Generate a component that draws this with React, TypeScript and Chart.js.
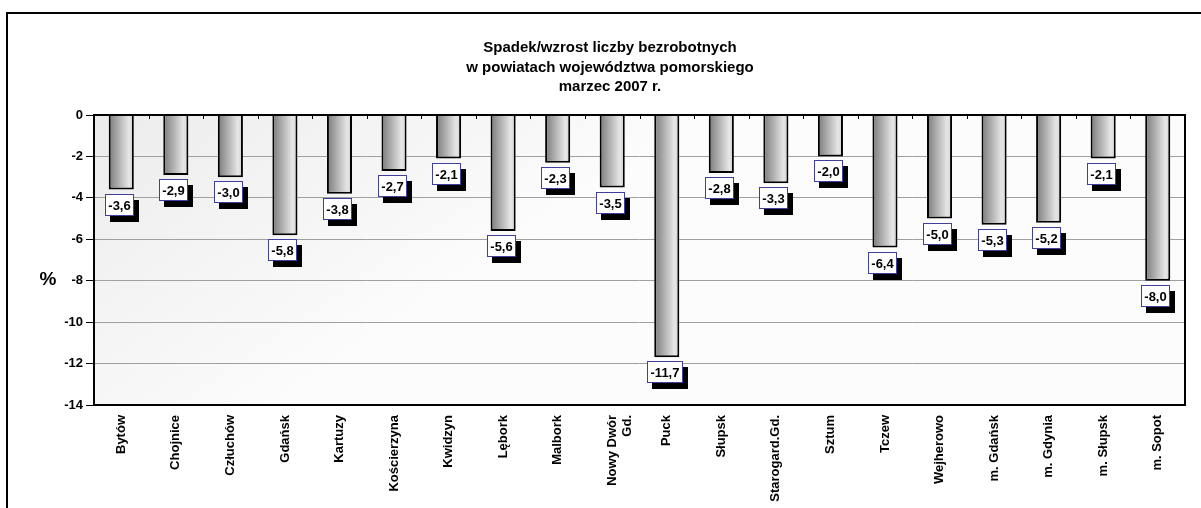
import React, { useEffect, useRef } from 'react';
import { Chart, registerables } from 'chart.js';

Chart.register(...registerables);

const categories: (string | string[])[] = [
  'Bytów', 'Chojnice', 'Człuchów', 'Gdańsk', 'Kartuzy', 'Kościerzyna', 'Kwidzyn', 'Lębork',
  'Malbork', ['Nowy Dwór', 'Gd.'], 'Puck', 'Słupsk', 'Starogard.Gd.', 'Sztum', 'Tczew',
  'Wejherowo', 'm. Gdańsk', 'm. Gdynia', 'm. Słupsk', 'm. Sopot',
];
const values = [
  -3.6, -2.9, -3.0, -5.8, -3.8, -2.7, -2.1, -5.6, -2.3, -3.5,
  -11.7, -2.8, -3.3, -2.0, -6.4, -5.0, -5.3, -5.2, -2.1, -8.0,
];
const yMin = -14;
const yMax = 0;
const yStep = 2;
const titleLines = [
  'Spadek/wzrost liczby bezrobotnych',
  'w powiatach województwa pomorskiego',
  'marzec 2007 r.',
];
const yAxisTitle = '%';

const FONT = '"Liberation Sans", Arial, Helvetica, sans-serif';

export default function App() {
  const ref = useRef<HTMLCanvasElement | null>(null);

  useEffect(() => {
    const canvas = ref.current;
    if (!canvas) return;

    const decor = {
      id: 'decor',
      beforeDraw(chart: any) {
        const { ctx, chartArea: a } = chart;
        ctx.save();
        ctx.fillStyle = '#ffffff';
        ctx.fillRect(0, 0, chart.width, chart.height);
        const g = ctx.createLinearGradient(a.left, a.top, a.left + 200, a.bottom);
        g.addColorStop(0, '#ececec');
        g.addColorStop(1, '#fcfcfc');
        ctx.fillStyle = g;
        ctx.fillRect(a.left, a.top, a.right - a.left, a.bottom - a.top);
        ctx.restore();
      },
      afterDatasetsDraw(chart: any) {
        const { ctx, chartArea: a } = chart;
        ctx.save();
        ctx.strokeStyle = '#000';
        ctx.lineWidth = 2;
        ctx.strokeRect(a.left, a.top, a.right - a.left, a.bottom - a.top);
        const n = categories.length;
        const cw = (a.right - a.left) / n;
        ctx.lineWidth = 1;
        for (let i = 1; i < n; i++) {
          const x = Math.round(a.left + i * cw) + 0.5;
          ctx.beginPath();
          ctx.moveTo(x, a.top);
          ctx.lineTo(x, a.top + 4);
          ctx.stroke();
        }
        const meta = chart.getDatasetMeta(0);
        ctx.font = `bold 13px ${FONT}`;
        ctx.textAlign = 'center';
        ctx.textBaseline = 'middle';
        meta.data.forEach((bar: any, i: number) => {
          const txt = values[i].toFixed(1).replace('.', ',');
          const tw = ctx.measureText(txt).width;
          const w = Math.round(tw + 7);
          const h = 22;
          const cx = bar.x - 2;
          const left = Math.round(cx - w / 2);
          const top = Math.round(bar.y + 4);
          ctx.fillStyle = '#000';
          ctx.fillRect(left + 5, top + 6, w, h);
          ctx.fillStyle = '#fff';
          ctx.fillRect(left, top, w, h);
          ctx.strokeStyle = '#3f3fa0';
          ctx.lineWidth = 1;
          ctx.strokeRect(left + 0.5, top + 0.5, w - 1, h - 1);
          ctx.fillStyle = '#000';
          ctx.fillText(txt, left + w / 2, top + h / 2 + 1);
        });
        ctx.restore();
      },
      afterDraw(chart: any) {
        const { ctx } = chart;
        ctx.save();
        ctx.strokeStyle = '#000';
        ctx.lineWidth = 2;
        ctx.strokeRect(7, 13, 1220, 600);
        ctx.fillStyle = '#000';
        ctx.font = `bold 15px ${FONT}`;
        ctx.textAlign = 'center';
        ctx.textBaseline = 'middle';
        titleLines.forEach((t, i) => ctx.fillText(t, 610, 48 + i * 19.5));
        ctx.font = `bold 19px ${FONT}`;
        ctx.fillText(yAxisTitle, 48, 280);
        ctx.restore();
      },
    };

    const chart = new Chart(canvas, {
      type: 'bar',
      data: {
        labels: categories as any,
        datasets: [
          {
            data: values,
            borderColor: '#000',
            borderWidth: 2,
            borderSkipped: 'start',
            categoryPercentage: 1,
            barPercentage: 0.46,
            backgroundColor: (c: any) => {
              const chart = c.chart;
              const a = chart.chartArea;
              if (!a || c.dataIndex === undefined || !chart.scales.x) return '#aaaaaa';
              const xs = chart.scales.x;
              const cx = xs.getPixelForValue(c.dataIndex);
              const half = ((a.right - a.left) / categories.length) * 0.46 / 2;
              const g = chart.ctx.createLinearGradient(cx - half, 0, cx + half, 0);
              g.addColorStop(0, '#7a7a7a');
              g.addColorStop(0.8, '#e6e6e6');
              g.addColorStop(1, '#d2d2d2');
              return g;
            },
          },
        ],
      },
      options: {
        animation: false,
        responsive: false,
        maintainAspectRatio: false,
        devicePixelRatio: 1,
        layout: { padding: { top: 115, right: 16, left: 0, bottom: 0 } },
        plugins: {
          legend: { display: false },
          title: { display: false },
          tooltip: { enabled: false },
        },
        scales: {
          x: {
            grid: { display: false },
            border: { display: false },
            ticks: {
              color: '#000',
              font: { family: FONT, size: 13, weight: 'bold' },
              minRotation: 90,
              maxRotation: 90,
              autoSkip: false,
              padding: 2,
            },
            afterFit: (s: any) => {
              s.height = 103;
            },
          },
          y: {
            min: yMin,
            max: yMax,
            grid: {
              color: '#a0a0a0',
              lineWidth: 1,
              tickLength: 8,
              tickColor: '#000',
              tickWidth: 1,
            },
            border: { display: false },
            ticks: {
              stepSize: yStep,
              color: '#000',
              padding: 3,
              font: { family: FONT, size: 13, weight: 'bold' },
            },
            afterFit: (s: any) => {
              s.width = 94;
            },
          },
        },
      } as any,
      plugins: [decor],
    });

    return () => chart.destroy();
  }, []);

  return (
    <div style={{ position: 'absolute', left: 0, top: 0, width: 1201, height: 508 }}>
      <canvas ref={ref} width={1201} height={508} style={{ display: 'block', width: 1201, height: 508 }} />
    </div>
  );
}
